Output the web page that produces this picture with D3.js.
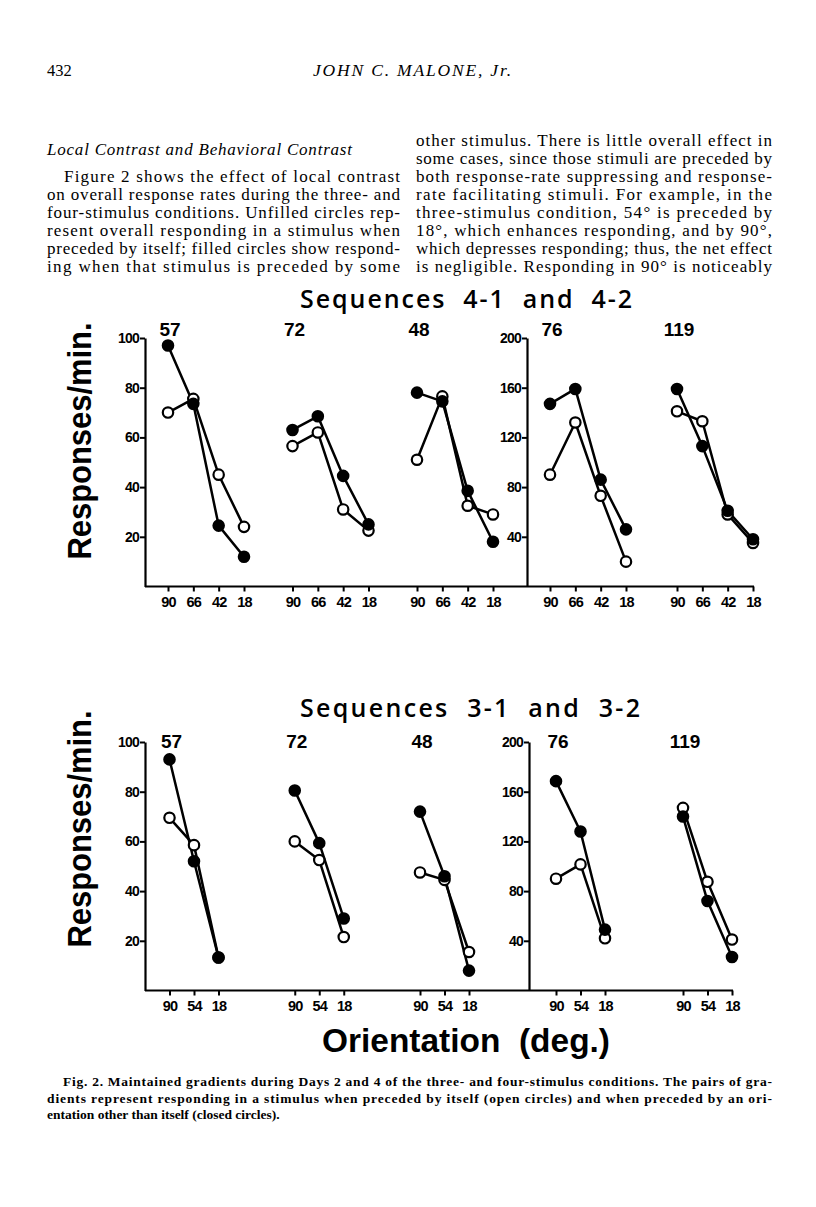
<!DOCTYPE html>
<html><head><meta charset="utf-8">
<script src="https://cdn.jsdelivr.net/npm/d3@7/dist/d3.min.js"></script>
<style>
html,body{margin:0;padding:0;background:#fff;}
svg{display:block;}
text{white-space:pre;}
</style></head><body>
<svg id="page" width="816" height="1207"></svg>
<script>
// ---------- data ----------
const groups = ["57", "72", "48", "76", "119"];
const leftGroups = ["57", "72", "48"];
const rightGroups = ["76", "119"];
const orient4 = ["90", "66", "42", "18"];
const orient3 = ["90", "54", "18"];
const ticksLeft = [20, 40, 60, 80, 100];
const ticksRight = [40, 80, 120, 160, 200];

// Sequences 4-1 and 4-2 (open = preceded by itself, filled = preceded by another)
const open4 = [
  [70, 75.5, 45, 24],
  [56.5, 62, 31, 22.5],
  [51, 76.5, 32.5, 29],
  [90, 132, 73, 20],
  [141, 133, 58, 35]
];
const filled4 = [
  [97, 73.5, 24.5, 12],
  [63, 68.5, 44.5, 25],
  [78, 74.5, 38.5, 18],
  [147, 159, 86, 46],
  [159, 113, 61, 38]
];
// Sequences 3-1 and 3-2
const open3 = [
  [69.5, 58.5, 13.3],
  [60, 52.5, 21.5],
  [47.5, 44.5, 15.5],
  [90, 101.5, 42],
  [147, 87.5, 41]
];
const filled3 = [
  [93, 52, 13.3],
  [80.5, 59.3, 29],
  [72, 46, 8],
  [168.5, 128, 49],
  [140, 72, 27]
];

const leftColumn = [
  "Figure 2 shows the effect of local contrast",
  "on overall response rates during the three- and",
  "four-stimulus conditions. Unfilled circles rep-",
  "resent overall responding in a stimulus when",
  "preceded by itself; filled circles show respond-",
  "ing when that stimulus is preceded by some"
];
const rightColumn = [
  "other stimulus. There is little overall effect in",
  "some cases, since those stimuli are preceded by",
  "both response-rate suppressing and response-",
  "rate facilitating stimuli. For example, in the",
  "three-stimulus condition, 54° is preceded by",
  "18°, which enhances responding, and by 90°,",
  "which depresses responding; thus, the net effect",
  "is negligible. Responding in 90° is noticeably"
];
const captionLines = [
  "Fig. 2. Maintained gradients during Days 2 and 4 of the three- and four-stimulus conditions. The pairs of gra-",
  "dients represent responding in a stimulus when preceded by itself (open circles) and when preceded by an ori-",
  "entation other than itself (closed circles)."
];

// ---------- drawing ----------
const svg = d3.select("#page");
const serif = "'Liberation Serif', 'DejaVu Serif', serif";
const sans = "'Liberation Sans', Arial, sans-serif";

// page header
svg.append("text").attr("x", 47).attr("y", 76).attr("font-family", serif).attr("font-size", 16.5).text("432");
svg.append("text").attr("x", 412).attr("y", 76).attr("text-anchor", "middle").attr("font-family", serif)
  .attr("font-style", "italic").attr("font-size", 17.5).attr("textLength", 198).attr("lengthAdjust", "spacing")
  .text("JOHN C. MALONE, Jr.");

// body text
const lineH = 18;
const body0 = 146;
svg.append("text").attr("x", 47).attr("y", body0 + 9).attr("font-family", serif).attr("font-style", "italic")
  .attr("font-size", 17).attr("textLength", 305).attr("lengthAdjust", "spacing")
  .text("Local Contrast and Behavioral Contrast");
leftColumn.forEach((t, i) => {
  const x0 = i === 0 ? 64 : 47;
  svg.append("text").attr("x", x0).attr("y", body0 + (i + 2) * lineH).attr("font-family", serif).attr("font-size", 17)
    .attr("textLength", 400 - x0).attr("lengthAdjust", "spacing").text(t);
});
rightColumn.forEach((t, i) => {
  svg.append("text").attr("x", 416).attr("y", body0 + i * lineH).attr("font-family", serif).attr("font-size", 17)
    .attr("textLength", 772 - 416).attr("lengthAdjust", "spacing").text(t);
});

// caption
captionLines.forEach((t, i) => {
  const x0 = i === 0 ? 63 : 47;
  const el = svg.append("text").attr("x", x0).attr("y", 1086 + i * 16.5).attr("font-family", serif)
    .attr("font-weight", "bold").attr("font-size", 13.5).text(t);
  if (i < 2) el.attr("textLength", 772 - x0).attr("lengthAdjust", "spacing");
});

// ---------- chart panels ----------
function drawPanel(cfg) {
  const g = svg.append("g");
  const yL = d3.scaleLinear().domain([0, 100]).range([cfg.y0, cfg.y0 - 248.5]);
  const yR = d3.scaleLinear().domain([0, 200]).range([cfg.y0, cfg.y0 - 248.5]);
  const gxL = d3.scalePoint().domain(leftGroups).range(cfg.leftRange);
  const gxR = d3.scalePoint().domain(rightGroups).range(cfg.rightRange);
  const xIn = d3.scalePoint().domain(cfg.orient).range([0, cfg.inner]);
  const gx = k => leftGroups.includes(k) ? gxL(k) : gxR(k);
  const yOf = k => leftGroups.includes(k) ? yL : yR;

  // title
  g.append("text").attr("x", 300).attr("y", cfg.titleY).attr("font-family", "'Open Sans', 'Noto Sans', sans-serif")
    .attr("font-weight", 600).attr("font-size", 25)
    .attr("textLength", cfg.titleLen).attr("lengthAdjust", "spacing").text(cfg.title);

  // y label
  g.append("text").attr("transform", `translate(91,${cfg.labelY}) rotate(-90)`).attr("text-anchor", "middle")
    .attr("font-family", sans).attr("font-weight", "bold").attr("font-size", 34)
    .attr("textLength", 237).attr("lengthAdjust", "spacingAndGlyphs").text("Responses/min.");

  // x axis baseline
  const xEnd = gxR(rightGroups[1]) + cfg.inner;
  g.append("line").attr("x1", cfg.axL).attr("x2", xEnd + 1).attr("y1", cfg.y0).attr("y2", cfg.y0)
    .attr("stroke", "#000").attr("stroke-width", 2.2);

  // y axes
  const ayL = g.append("g").attr("transform", `translate(${cfg.axL},0)`)
    .call(d3.axisLeft(yL).tickValues(ticksLeft).tickSize(5).tickSizeOuter(0).tickPadding(1));
  const ayR = g.append("g").attr("transform", `translate(${cfg.axR},0)`)
    .call(d3.axisLeft(yR).tickValues(ticksRight).tickSize(5).tickSizeOuter(0).tickPadding(1));
  [ayL, ayR].forEach(a => {
    a.select(".domain").attr("stroke-width", 2.2);
    a.selectAll(".tick line").attr("stroke-width", 2);
    a.selectAll(".tick text").attr("font-family", sans).attr("font-weight", "bold").attr("font-size", 14)
      .attr("letter-spacing", -0.8);
  });

  // x axes per group
  groups.forEach(k => {
    const ax = g.append("g").attr("transform", `translate(${gx(k)},${cfg.y0})`)
      .call(d3.axisBottom(xIn).tickSize(5).tickPadding(5));
    ax.select(".domain").remove();
    ax.selectAll(".tick line").attr("stroke-width", 2);
    ax.selectAll(".tick text").attr("font-family", sans).attr("font-weight", "bold").attr("font-size", 14.5)
      .attr("letter-spacing", -0.8);
    // group label
    g.append("text").attr("x", gx(k) + 2).attr("y", cfg.labY).attr("text-anchor", "middle")
      .attr("font-family", sans).attr("font-weight", "bold").attr("font-size", 19).text(k);
  });

  const line = d3.line();
  const series = [{ vals: cfg.open, fill: "#fff" }, { vals: cfg.filled, fill: "#000" }];
  // lines first
  series.forEach(s => {
    groups.forEach((k, gi) => {
      const pts = cfg.orient.map((o, j) => [gx(k) + xIn(o), yOf(k)(s.vals[gi][j])]);
      g.append("path").attr("d", line(pts)).attr("fill", "none").attr("stroke", "#000")
        .attr("stroke-width", 2.5).attr("stroke-linejoin", "round");
    });
  });
  // circles
  series.forEach(s => {
    groups.forEach((k, gi) => {
      g.selectAll(null).data(cfg.orient).enter().append("circle")
        .attr("cx", (o) => gx(k) + xIn(o))
        .attr("cy", (o, j) => yOf(k)(s.vals[gi][j]))
        .attr("r", 5.2).attr("fill", s.fill).attr("stroke", "#000").attr("stroke-width", 2.2);
    });
  });
}

drawPanel({
  title: "Sequences  4-1  and  4-2", titleY: 308, titleLen: 332,
  y0: 586.5, axL: 145, axR: 527,
  leftRange: [168, 417], rightRange: [550, 677], inner: 76,
  orient: orient4, open: open4, filled: filled4,
  labelY: 441, labY: 336
});
drawPanel({
  title: "Sequences  3-1  and  3-2", titleY: 717, titleLen: 340,
  y0: 990.5, axL: 145, axR: 529,
  leftRange: [169.5, 420], rightRange: [556, 683], inner: 49,
  orient: orient3, open: open3, filled: filled3,
  labelY: 829, labY: 748
});

// x-axis title
svg.append("text").attr("x", 466).attr("y", 1052).attr("text-anchor", "middle").attr("font-family", sans)
  .attr("font-weight", "bold").attr("font-size", 34).attr("textLength", 288).attr("lengthAdjust", "spacingAndGlyphs")
  .text("Orientation  (deg.)");
</script>
</body></html>
